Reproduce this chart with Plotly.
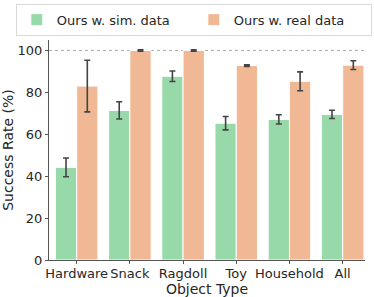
import plotly.graph_objects as go

categories = ["Hardware", "Snack", "Ragdoll", "Toy", "Household", "All"]
sim_values = [44.2, 71.4, 87.7, 65.3, 67.1, 69.5]
sim_err = [4.5, 4.1, 2.5, 3.2, 2.2, 2.0]
real_values = [83.0, 100.0, 100.0, 92.8, 85.3, 93.0]
real_err = [12.3, 0.3, 0.3, 0.4, 4.5, 2.1]
y_ticks = [0, 20, 40, 60, 80, 100]
ref_line = 100

GREEN = "#98d9a9"
ORANGE = "#f0b894"
TXT = "#262626"
FONT = "DejaVu Sans"

x_idx = list(range(len(categories)))

fig = go.Figure()
fig.add_trace(go.Bar(
    x=x_idx, y=sim_values, name="Ours w. sim. data",
    marker=dict(color=GREEN, line=dict(color="white", width=1)),
    error_y=dict(type="data", array=sim_err, color="#444444", thickness=1.6, width=3),
    offsetgroup=0,
))
fig.add_trace(go.Bar(
    x=x_idx, y=real_values, name="Ours w. real data",
    marker=dict(color=ORANGE, line=dict(color="white", width=1)),
    error_y=dict(type="data", array=real_err, color="#444444", thickness=1.6, width=3),
    offsetgroup=1,
))

fig.add_hline(y=ref_line, line=dict(color="#aaaaaa", width=1, dash="dot"), layer="below")

fig.update_layout(
    width=374, height=297,
    margin=dict(l=49, r=9, t=40, b=37, autoexpand=False),
    plot_bgcolor="white", paper_bgcolor="white",
    barmode="group", bargap=0.2, bargroupgap=0,
    font=dict(family=FONT, size=13, color=TXT),
    showlegend=True,
    legend=dict(
        orientation="h",
        x=-0.105, xanchor="left", y=1.165, yanchor="top",
        bordercolor="#d9d9d9", borderwidth=1,
        font=dict(family=FONT, size=13, color=TXT),
        itemwidth=30, entrywidth=132, entrywidthmode="pixels",
    ),
    xaxis=dict(
        tickvals=x_idx, ticktext=categories, range=[-0.52, 5.42],
        showline=True, linecolor="#555555", linewidth=1.2,
        ticks="outside", ticklen=3, tickcolor="#555555",
        showgrid=False, zeroline=False, tickangle=0, automargin=False,
        ticklabelstandoff=-2,
        title=dict(text="Object Type", font=dict(size=14, color=TXT), standoff=0),
        tickfont=dict(size=13, color=TXT),
    ),
    yaxis=dict(
        tickvals=y_ticks, range=[0, 105],
        showline=True, linecolor="#555555", linewidth=1.2,
        ticks="outside", ticklen=3, tickcolor="#555555",
        showgrid=False, zeroline=False, automargin=False,
        title=dict(text="Success Rate (%)", font=dict(size=14, color=TXT), standoff=4),
        tickfont=dict(size=13, color=TXT),
    ),
)

fig.write_html(
    "out.html",
    config={"displayModeBar": False},
    post_script="document.body.style.margin='0';document.body.style.overflow='hidden';",
)
